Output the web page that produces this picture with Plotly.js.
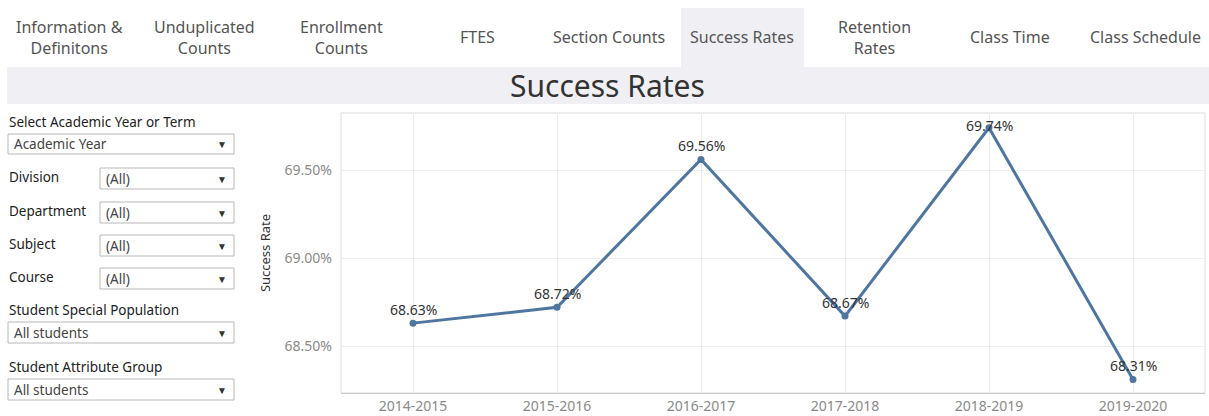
<!DOCTYPE html>
<html>
<head>
<meta charset="utf-8">
<script src="https://cdn.plot.ly/plotly-3.0.1.min.js"></script>
<style>html,body{margin:0;padding:0;background:#fff;}#chart{width:1209px;height:416px;}</style>
</head>
<body>
<div id="chart"></div>
<script>
// ---- data ----
const years = ["2014-2015","2015-2016","2016-2017","2017-2018","2018-2019","2019-2020"];
const successRate = [68.63, 68.72, 69.56, 68.67, 69.74, 68.31];
const yTicks = [68.5, 69.0, 69.5];
const tabLabels = ["Information &<br>Definitons","Unduplicated<br>Counts","Enrollment<br>Counts","FTES","Section Counts","Success Rates","Retention<br>Rates","Class Time","Class Schedule"];
const filterLabels = ["Select Academic Year or Term","Division","Department","Subject","Course","Student Special Population","Student Attribute Group"];
const filterValues = ["Academic Year","(All)","(All)","(All)","(All)","All students","All students"];

// ---- layout geometry (pixels) ----
const W = 1209, H = 416;
const mL = 341, mR = 4, mT = 113, mB = 23;
const pw = W - mL - mR, ph = H - mT - mB;
const px = x => (x - mL) / pw;
const py = y => (H - mB - y) / ph;
const yRange = [68.233, 69.824];
const FONT = "Noto Sans, Open Sans, sans-serif";

const shapes = [];
const annotations = [];

// tabs
const tabCenters = [69, 204, 341, 477, 609, 742, 874, 1010, 1145];
shapes.push({type:"rect", xref:"paper", yref:"paper", x0:px(681), x1:px(804), y0:py(67), y1:py(8), fillcolor:"#f0f0f4", line:{width:0}, layer:"below"});
tabLabels.forEach((t,i)=>{
  annotations.push({xref:"paper", yref:"paper", x:px(tabCenters[i]), y:py(37), text:t, showarrow:false,
    xanchor:"center", yanchor:"middle", align:"center", font:{family:FONT, size:16, color:"#555"}});
});
// title bar
shapes.push({type:"rect", xref:"paper", yref:"paper", x0:px(7), x1:px(1209), y0:py(104), y1:py(67), fillcolor:"#f0f0f4", line:{width:0}, layer:"below"});
annotations.push({xref:"paper", yref:"paper", x:px(607), y:py(86), text:"Success Rates", showarrow:false,
  xanchor:"center", yanchor:"middle", font:{family:FONT, size:30, color:"#333"}});

// filters
const fLabelY = [122, 177, 211, 244, 277, 310, 367];
const fBox = [[8,134,154],[100,168,189],[100,202,223],[100,235,256],[100,268,289],[8,322,343],[8,379,400]];
filterLabels.forEach((lab,i)=>{
  annotations.push({xref:"paper", yref:"paper", x:px(7), y:py(fLabelY[i]), text:lab, showarrow:false,
    xanchor:"left", yanchor:"middle", font:{family:FONT, size:13.5, color:"#222"}});
  const [bx, by0, by1] = fBox[i];
  shapes.push({type:"rect", xref:"paper", yref:"paper", x0:px(bx), x1:px(234), y0:py(by1), y1:py(by0), fillcolor:"#fff", line:{color:"#b8b8b8", width:1}});
  annotations.push({xref:"paper", yref:"paper", x:px(bx+4), y:py((by0+by1)/2), text:filterValues[i], showarrow:false,
    xanchor:"left", yanchor:"middle", font:{family:FONT, size:13.5, color:"#444"}});
  annotations.push({xref:"paper", yref:"paper", x:px(222), y:py((by0+by1)/2), text:"▼", showarrow:false,
    xanchor:"center", yanchor:"middle", font:{family:FONT, size:10, color:"#333"}});
});

// data labels
const perPx = (yRange[1]-yRange[0]) / ph;
years.forEach((yr,i)=>{
  const v = successRate[i];
  let shift = 14;
  if (v + (shift+8)*perPx > yRange[1]) shift = 2;
  annotations.push({x:yr, y:v, xref:"x", yref:"y", text:v.toFixed(2)+"%", showarrow:false,
    yshift:shift, xanchor:"center", yanchor:"middle", font:{family:FONT, size:14, color:"#333"}});
});

// plot border
shapes.push({type:"rect", xref:"paper", yref:"paper", x0:0, x1:1, y0:0, y1:1, line:{color:"#dcdcdc", width:1}, fillcolor:"rgba(0,0,0,0)", layer:"below"});

const trace = {
  type:"scatter", mode:"lines+markers", x:years, y:successRate,
  line:{color:"#4e76a0", width:3}, marker:{color:"#4e76a0", size:7},
  hoverinfo:"x+y", cliponaxis:false
};

const layout = {
  width:W, height:H, margin:{l:mL, r:mR, t:mT, b:mB, pad:0},
  paper_bgcolor:"#fff", plot_bgcolor:"#fff", showlegend:false,
  font:{family:FONT},
  xaxis:{type:"category", showgrid:true, gridcolor:"#ececec", gridwidth:1,
    tickfont:{family:FONT, size:14, color:"#8a8a8a"}, ticks:"", showline:true, linecolor:"#c8c8c8", linewidth:1,
    zeroline:false, fixedrange:true, range:[-0.5, 5.5]},
  yaxis:{range:yRange, tickmode:"array", tickvals:yTicks, ticktext:yTicks.map(v=>v.toFixed(2)+"%"), showgrid:true, gridcolor:"#ececec",
    tickfont:{family:FONT, size:14, color:"#8a8a8a"}, ticks:"", ticklabelstandoff:8, zeroline:false, showline:false,
    title:{text:"Success Rate", font:{family:FONT, size:13, color:"#333"}, standoff:11}, fixedrange:true},
  shapes, annotations
};

Plotly.newPlot("chart", [trace], layout, {displayModeBar:false, staticPlot:true});
</script>
</body>
</html>
